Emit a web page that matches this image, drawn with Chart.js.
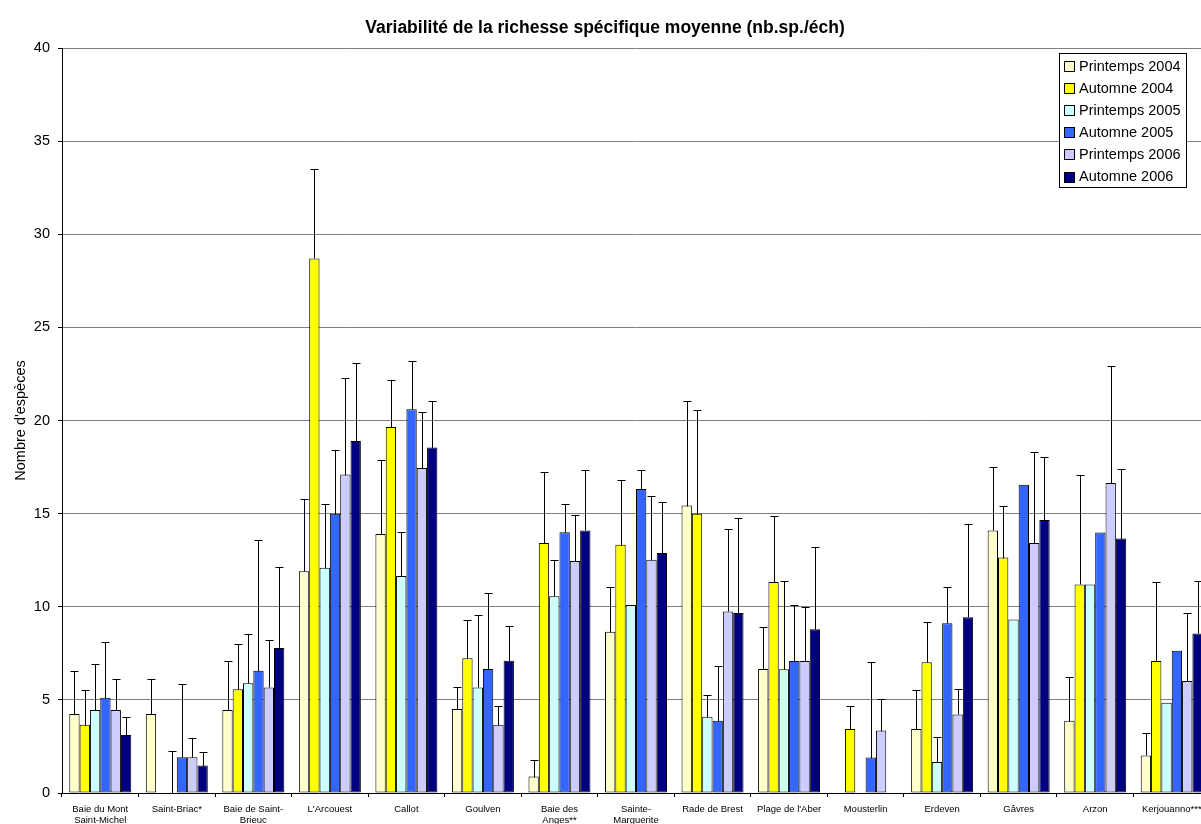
<!DOCTYPE html>
<html>
<head>
<meta charset="utf-8">
<script src="https://cdn.jsdelivr.net/npm/chart.js@4.4.1/dist/chart.umd.min.js"></script>
<style>
html, body { margin: 0; padding: 0; overflow: hidden; background: #fff; }
#wrap { width: 1210px; height: 824px; }
</style>
</head>
<body>
<div id="wrap"><canvas id="c" width="1210" height="824"></canvas></div>
<script>
const categories = [
  ["Baie du Mont", "Saint-Michel"], "Saint-Briac*", ["Baie de Saint-", "Brieuc"], "L'Arcouest", "Callot",
  "Goulven", ["Baie des", "Anges**"], ["Sainte-", "Marguerite"], "Rade de Brest", "Plage de l'Aber",
  "Mousterlin", "Erdeven", "Gâvres", "Arzon", "Kerjouanno***"
];
const seriesNames = ["Printemps 2004", "Automne 2004", "Printemps 2005", "Automne 2005", "Printemps 2006", "Automne 2006"];

const printemps2004 = [4.24, 4.24, 4.46, 11.9, 13.9, 4.51, 0.88, 8.66, 15.43, 6.66, null, 3.44, 14.1, 3.88, 2.02];
const printemps2004Upper = [6.57, 6.14, 7.09, 15.8, 17.9, 5.69, 1.79, 11.06, 21.07, 8.9, null, 5.51, 17.5, 6.25, 3.24];

const automne2004 = [3.67, 0, 5.57, 28.7, 19.65, 7.23, 13.42, 13.33, 15.0, 11.33, 3.44, 7.02, 12.64, 11.2, 7.09];
const automne2004Upper = [5.55, null, 7.98, 33.5, 22.2, 9.27, 17.25, 16.82, 20.55, 14.89, 4.69, 9.18, 15.43, 17.05, 11.35];

const printemps2005 = [4.46, 0, 5.89, 12.1, 11.65, 5.67, 10.56, 10.09, 4.1, 6.64, null, 1.66, 9.31, 11.2, 4.85];
const printemps2005Upper = [6.93, 2.27, 8.55, 15.5, 14.0, 9.56, 12.49, null, 5.24, 11.4, null, 3.02, null, null, null];

const automne2005 = [5.12, 1.92, 6.57, 15.0, 20.6, 6.66, 14.0, 16.32, 3.88, 7.09, 1.9, 9.11, 16.55, 13.98, 7.64];
const automne2005Upper = [8.11, 5.85, 13.58, 18.4, 23.2, 10.74, 15.53, 17.36, 6.84, 10.11, 7.05, 11.04, null, null, null];

const printemps2006 = [4.46, 1.92, 5.67, 17.1, 17.45, 3.67, 12.46, 12.53, 9.75, 7.09, 3.35, 4.22, 13.42, 16.64, 6.01];
const printemps2006Upper = [6.12, 2.97, 8.23, 22.3, 20.45, 4.65, 14.91, 15.95, 14.19, 10.0, 5.06, 5.6, 18.33, 22.93, 9.68];

const automne2006 = [3.11, 1.47, 7.79, 18.9, 18.55, 7.1, 14.1, 12.89, 9.66, 8.79, null, 9.43, 14.66, 13.66, 8.57];
const automne2006Upper = [4.06, 2.18, 12.13, 23.1, 21.05, 8.95, 17.36, 15.62, 14.77, 13.23, null, 14.43, 18.04, 17.37, 11.37];

const yTicks = [0, 5, 10, 15, 20, 25, 30, 35, 40];

const colors = ["#FFFFCC", "#FFFF00", "#CCFFFF", "#3366FF", "#CCCCFF", "#000080"];
const values = [printemps2004, automne2004, printemps2005, automne2005, printemps2006, automne2006];
const uppers = [printemps2004Upper, automne2004Upper, printemps2005Upper, automne2005Upper, printemps2006Upper, automne2006Upper];

const FONT = "'Liberation Sans', Arial, sans-serif";

const datasets = seriesNames.map((name, i) => ({
  label: name,
  data: values[i],
  errUpper: uppers[i],
  backgroundColor: colors[i],
  borderColor: "#000000",
  borderWidth: 1,
  borderSkipped: false
}));

const errorBars = {
  id: "errorBars",
  afterDatasetsDraw(chart) {
    const ctx = chart.ctx;
    const ys = chart.scales.y;
    ctx.save();
    ctx.strokeStyle = "#000000";
    ctx.lineWidth = 1;
    chart.data.datasets.forEach((ds, i) => {
      const meta = chart.getDatasetMeta(i);
      meta.data.forEach((el, j) => {
        const up = ds.errUpper[j];
        if (up === null || up === undefined) return;
        const v = ds.data[j] === null ? 0 : ds.data[j];
        const x = Math.round(el.x) + 0.5;
        const y0 = Math.round(ys.getPixelForValue(v)) + 0.5;
        const y1 = Math.round(ys.getPixelForValue(up)) + 0.5;
        ctx.beginPath();
        ctx.moveTo(x, y0);
        ctx.lineTo(x, y1);
        ctx.moveTo(x - 4, y1);
        ctx.lineTo(x + 4, y1);
        ctx.stroke();
      });
    });
    ctx.restore();
  }
};

const boxLegend = {
  id: "boxLegend",
  afterDraw(chart) {
    const ctx = chart.ctx;
    const bx = 1059.5, by = 53.5, bw = 127, bh = 134;
    ctx.save();
    ctx.fillStyle = "#ffffff";
    ctx.fillRect(bx, by, bw, bh);
    ctx.strokeStyle = "#000000";
    ctx.lineWidth = 1;
    ctx.strokeRect(bx, by, bw, bh);
    ctx.font = "14.5px " + FONT;
    ctx.textBaseline = "middle";
    ctx.textAlign = "left";
    chart.data.datasets.forEach((ds, i) => {
      const cy = 66 + i * 22.1;
      ctx.fillStyle = ds.backgroundColor;
      ctx.fillRect(1064.5, Math.round(cy - 5) + 0.5, 10, 10);
      ctx.strokeStyle = "#000000";
      ctx.strokeRect(1064.5, Math.round(cy - 5) + 0.5, 10, 10);
      ctx.fillStyle = "#000000";
      ctx.fillText(ds.label, 1079, cy + 0.5);
    });
    ctx.restore();
  }
};

new Chart(document.getElementById("c"), {
  type: "bar",
  data: { labels: categories, datasets: datasets },
  options: {
    responsive: false,
    animation: false,
    devicePixelRatio: 1,
    layout: { padding: { left: 0, right: 0, top: 0, bottom: 0 } },
    plugins: {
      legend: { display: false },
      tooltip: { enabled: false },
      title: {
        display: true,
        text: "Variabilité de la richesse spécifique moyenne (nb.sp./éch)",
        color: "#000000",
        font: { family: FONT, size: 17.5, weight: "bold", lineHeight: 1.2 },
        padding: { top: 18, bottom: 9 }
      }
    },
    datasets: { bar: { categoryPercentage: 0.81, barPercentage: 1.0 } },
    scales: {
      x: {
        offset: true,
        grid: { display: true, offset: true, drawOnChartArea: false, drawTicks: true, tickLength: 4, tickColor: "#000000" },
        border: { display: true, color: "#000000", width: 1 },
        ticks: {
          color: "#000000",
          font: { family: FONT, size: 9.5, lineHeight: 1.25 },
          maxRotation: 0, minRotation: 0, autoSkip: false, padding: 6
        },
        afterFit(scale) { scale.height = 31; }
      },
      y: {
        min: 0, max: 40,
        afterBuildTicks(scale) { scale.ticks = yTicks.map(v => ({ value: v })); },
        grid: { color: "#808080", lineWidth: 1, drawTicks: true, tickLength: 4, tickColor: "#000000" },
        border: { display: true, color: "#000000", width: 1 },
        ticks: { color: "#000000", font: { family: FONT, size: 14.5 }, padding: 8 },
        title: {
          display: true,
          text: "Nombre d'espèces",
          color: "#000000",
          font: { family: FONT, size: 14.5 },
          padding: { top: 12, bottom: 0 }
        },
        afterFit(scale) { scale.width = 62; }
      }
    }
  },
  plugins: [errorBars, boxLegend]
});
</script>
</body>
</html>
